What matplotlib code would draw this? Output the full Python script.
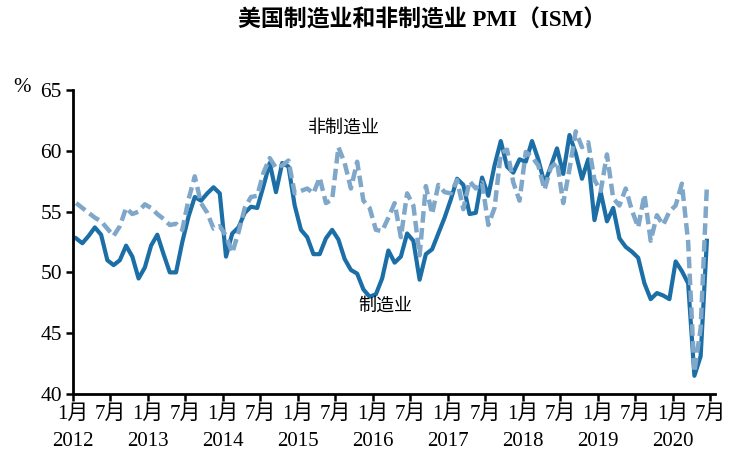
import numpy as np
import matplotlib
matplotlib.use("Agg")
import matplotlib.pyplot as plt

# ISM PMI, monthly, Jan 2012 - Jun 2020
manufacturing = [
    52.8, 52.4, 53.0, 53.7, 53.1, 51.0, 50.6, 51.0, 52.2, 51.3, 49.5, 50.4,  # 2012
    52.2, 53.1, 51.5, 50.0, 50.0, 52.5, 54.6, 56.2, 55.9, 56.5, 57.0, 56.5,  # 2013
    51.3, 53.2, 53.7, 54.9, 55.4, 55.3, 57.1, 59.0, 56.6, 59.0, 58.7, 55.5,  # 2014
    53.5, 52.9, 51.5, 51.5, 52.8, 53.5, 52.7, 51.1, 50.2, 49.9, 48.6, 48.0,  # 2015
    48.2, 49.5, 51.8, 50.8, 51.3, 53.2, 52.6, 49.4, 51.5, 51.9, 53.2, 54.5,  # 2016
    56.0, 57.7, 57.2, 54.8, 54.9, 57.8, 56.3, 58.8, 60.8, 58.7, 58.2, 59.3,  # 2017
    59.1, 60.8, 59.3, 57.3, 58.7, 60.2, 58.1, 61.3, 59.8, 57.7, 59.3, 54.3,  # 2018
    56.6, 54.2, 55.3, 52.8, 52.1, 51.7, 51.2, 49.1, 47.8, 48.3, 48.1, 47.8,  # 2019
    50.9, 50.1, 49.1, 41.5, 43.1, 52.6,                                      # 2020
]
non_manufacturing = [
    55.7, 55.3, 54.9, 54.5, 54.2, 53.6, 53.0, 53.8, 55.3, 54.8, 55.0, 55.6,  # 2012
    55.3, 54.8, 54.4, 53.9, 54.0, 53.5, 56.0, 57.9, 55.7, 54.9, 53.6, 53.8,  # 2013
    53.0, 51.6, 53.3, 55.3, 56.2, 56.3, 58.2, 59.4, 58.6, 58.8, 59.2, 56.5,  # 2014
    56.7, 56.9, 56.5, 57.8, 55.7, 56.0, 60.3, 59.0, 56.9, 59.1, 55.9, 55.3,  # 2015
    53.5, 53.4, 54.5, 55.7, 52.9, 56.5, 55.5, 51.4, 57.1, 54.8, 57.2, 56.6,  # 2016
    56.5, 57.6, 55.2, 57.5, 56.9, 57.4, 53.9, 55.3, 59.8, 60.1, 57.4, 55.9,  # 2017
    59.9, 59.5, 58.8, 56.8, 58.6, 59.1, 55.7, 58.5, 61.6, 60.3, 60.7, 57.6,  # 2018
    56.7, 59.7, 56.1, 55.5, 56.9, 55.1, 53.7, 56.4, 52.6, 54.7, 53.9, 55.0,  # 2019
    55.5, 57.3, 52.5, 41.8, 45.4, 57.1,                                      # 2020
]
years = ["2012", "2013", "2014", "2015", "2016", "2017", "2018", "2019", "2020"]
y_ticks = [40, 45, 50, 55, 60, 65]

SERIF = ["Liberation Serif", "Noto Sans CJK SC"]
CJK = ["Noto Sans CJK SC", "DejaVu Sans"]
DARK = "#1b6ea6"
LIGHT = "#7ea7c9"

fig = plt.figure(figsize=(7.56, 4.61), dpi=100)
ax = fig.add_axes([73 / 756, 1 - 394 / 461, 642 / 756, 304 / 461])

x = np.arange(len(manufacturing)) + 0.5
ax.plot(x, manufacturing, color=DARK, lw=3.0, solid_joinstyle="round")
ax.plot(x, non_manufacturing, color=LIGHT, lw=3.2, dashes=(2.6, 1.2),
        dash_capstyle="butt")

ax.set_xlim(0, 102.8)
ax.set_ylim(40, 65)
ax.set_yticks(y_ticks)
ax.set_yticklabels([str(v) for v in y_ticks], family=SERIF, fontsize=15.5)

xt = np.arange(0, 103, 6)
labels = []
for k in range(len(xt)):
    if k % 2 == 0:
        labels.append("1月\n" + years[k // 2])
    else:
        labels.append("7月")
ax.set_xticks(xt)
ax.set_xticklabels(labels, family=SERIF, fontsize=15, linespacing=1.55,
                   va="top")

for s in ["top", "right"]:
    ax.spines[s].set_visible(False)
for s in ["left", "bottom"]:
    ax.spines[s].set_linewidth(2)
ax.tick_params(direction="out", length=5, width=1.8, pad=3)

ax.text(43.4, 61.9, "非制造业", family=CJK, fontsize=13, ha="center",
        va="center")
ax.text(50.0, 47.3, "制造业", family=CJK, fontsize=13, ha="center",
        va="center")

fig.text(22 / 756, 1 - 88 / 461, "%", family=SERIF, fontsize=15,
         ha="center", va="center")
fig.text(422 / 756, 1 - 20 / 461, "美国制造业和非制造业 PMI（ISM）",
         family=SERIF, fontsize=16.5, fontweight="bold", ha="center",
         va="center")

fig.savefig("out.png", dpi=100)
